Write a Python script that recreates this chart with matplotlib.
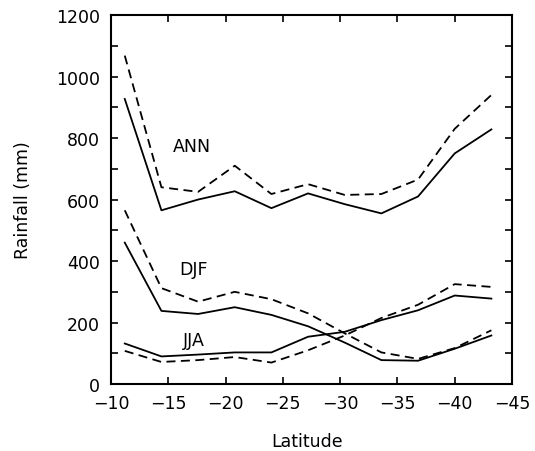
import matplotlib
matplotlib.use("Agg")
import matplotlib.pyplot as plt
from matplotlib.ticker import MultipleLocator

lat = [-11.2, -14.4, -17.6, -20.8, -24.0, -27.2, -30.4, -33.6, -36.8, -40.0, -43.2]

ann_solid = [927, 565, 600, 627, 572, 620, 585, 555, 610, 750, 828]
ann_dash = [1068, 640, 625, 710, 618, 650, 615, 618, 665, 830, 940]
djf_solid = [460, 238, 228, 250, 225, 188, 135, 78, 76, 115, 158]
djf_dash = [565, 312, 268, 300, 276, 230, 165, 103, 82, 117, 175]
jja_solid = [132, 90, 96, 103, 103, 154, 170, 208, 240, 288, 278]
jja_dash = [108, 72, 78, 88, 70, 110, 158, 215, 258, 325, 316]

labels = ["ANN", "DJF", "JJA"]
label_lat = [-17.1, -17.2, -17.2]
label_y = [774, 374, 143]

plt.rcParams['font.family'] = ['DejaVu Sans']

fig = plt.figure(figsize=(5.35, 4.52), dpi=100)
ax = fig.add_axes([0.2075, 0.148, 0.7495, 0.8166])

lw = 1.3
dash = (0, (5, 3))
ax.plot(lat, ann_solid, color='black', lw=lw)
ax.plot(lat, ann_dash, color='black', lw=lw, ls=dash)
ax.plot(lat, djf_solid, color='black', lw=lw)
ax.plot(lat, djf_dash, color='black', lw=lw, ls=dash)
ax.plot(lat, jja_solid, color='black', lw=lw)
ax.plot(lat, jja_dash, color='black', lw=lw, ls=dash)

for t, x, y in zip(labels, label_lat, label_y):
    ax.text(x, y, t, ha='center', va='center', fontsize=12.5)

ax.set_xlim(-10, -45)
ax.set_ylim(0, 1200)
ax.xaxis.set_major_locator(MultipleLocator(5))
ax.yaxis.set_major_locator(MultipleLocator(200))
ax.yaxis.set_minor_locator(MultipleLocator(100))
ax.tick_params(which='both', direction='in', top=True, right=True,
               length=5, width=1.2, labelsize=12.5)
ax.tick_params(axis='x', pad=7)
ax.tick_params(axis='y', pad=8)
for s in ax.spines.values():
    s.set_linewidth(1.5)

ax.set_xlabel('Latitude', fontsize=12.5, va='center')
ax.set_ylabel('Rainfall (mm)', fontsize=12.5, va='center')
# place axis titles where the reference has them (in axes fraction)
ax.xaxis.set_label_coords(0.49, -0.155)
ax.yaxis.set_label_coords(-0.22, 0.5)

fig.savefig('out.png', dpi=100)
